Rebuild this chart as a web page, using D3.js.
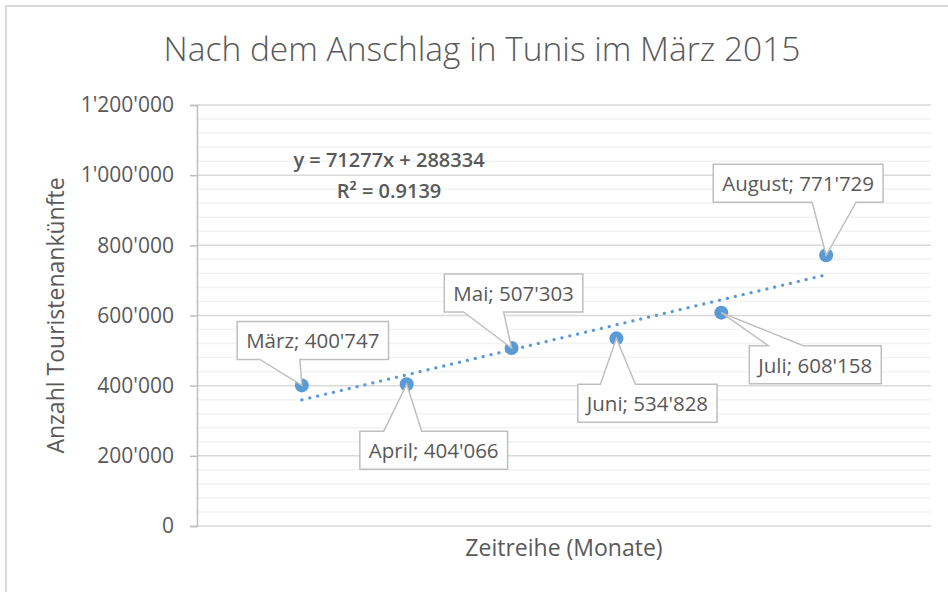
<!DOCTYPE html>
<html>
<head>
<meta charset="utf-8">
<script src="https://cdn.jsdelivr.net/npm/d3@7"></script>
<style>
  body { margin: 0; background: #fff; }
  text { font-family: "Open Sans", sans-serif; fill: #595959; }
</style>
</head>
<body>
<div id="chart"></div>
<script>
// data: months after the attack and tourist arrivals
const months = ["März", "April", "Mai", "Juni", "Juli", "August"];
const arrivals = [400747, 404066, 507303, 534828, 608158, 771729];
const yTicks = [0, 200000, 400000, 600000, 800000, 1000000, 1200000];

const chartTitle = "Nach dem Anschlag in Tunis im März 2015";
const yTitle = "Anzahl Touristenankünfte";
const xTitle = "Zeitreihe (Monate)";

// where each callout sits relative to its point (box centre) and where its wedge leaves the box
const callouts = [
  { dx: 11, dy: -45, base: [-53, -13] },
  { dx: 27, dy: 66, base: [-50, -12] },
  { dx: 2, dy: -55, base: [-50, -10] },
  { dx: 31, dy: 65, base: [-47, -12] },
  { dx: 94, dy: 52, base: [-47, -12] },
  { dx: -28, dy: -72, base: [14, 58] }
];

const W = 948, H = 592;
const margin = { top: 105, right: 17, bottom: 66, left: 197 };
const width = W - margin.left - margin.right;
const height = H - margin.top - margin.bottom;

const loc = d3.formatLocale({ decimal: ".", thousands: "'", grouping: [3], currency: ["", ""] });
const fmt = loc.format(",d");

const svg = d3.select("#chart").append("svg")
  .attr("width", W)
  .attr("height", H);

// chart frame (only top/left edges visible in the crop)
svg.append("rect")
  .attr("x", 6).attr("y", 6)
  .attr("width", W + 20).attr("height", H + 20)
  .attr("fill", "none")
  .attr("stroke", "#d9d9d9")
  .attr("stroke-width", 2);

const g = svg.append("g").attr("transform", `translate(${margin.left},${margin.top})`);

const x = d3.scaleLinear().domain([0, months.length + 1]).range([0, width]);
const y = d3.scaleLinear().domain([0, 1200000]).range([height, 0]);

// minor gridlines
const minor = d3.range(0, 1200001, 40000).filter(v => v % 200000 !== 0);
g.append("g").selectAll("line").data(minor).join("line")
  .attr("x1", 0).attr("x2", width)
  .attr("y1", d => y(d)).attr("y2", d => y(d))
  .attr("stroke", "#f2f2f2").attr("stroke-width", 1.5);

// major gridlines
g.append("g").selectAll("line").data(yTicks).join("line")
  .attr("x1", 0).attr("x2", width)
  .attr("y1", d => y(d)).attr("y2", d => y(d))
  .attr("stroke", "#d9d9d9").attr("stroke-width", 1.5);

// y axis
const yAxis = g.append("g")
  .call(d3.axisLeft(y).tickValues(yTicks).tickSize(7).tickPadding(16).tickFormat(fmt));
yAxis.select(".domain").attr("stroke", "#bfbfbf").attr("stroke-width", 1.5);
yAxis.selectAll(".tick line").attr("stroke", "#bfbfbf").attr("stroke-width", 1.5);
yAxis.selectAll(".tick text")
  .attr("fill", "#595959")
  .style("font-size", "21px")
  .style("font-family", "'Open Sans', sans-serif");

// titles
svg.append("text")
  .attr("x", 482).attr("y", 61)
  .attr("text-anchor", "middle")
  .style("font-size", "33.5px")
  .style("font-weight", 300)
  .text(chartTitle);

svg.append("text")
  .attr("transform", `translate(64,${margin.top + height / 2}) rotate(-90)`)
  .attr("text-anchor", "middle")
  .style("font-size", "23px")
  .text(yTitle);

svg.append("text")
  .attr("x", margin.left + width / 2).attr("y", 556)
  .attr("text-anchor", "middle")
  .style("font-size", "23px")
  .text(xTitle);

// points
const pts = months.map((m, i) => ({ name: m, xi: i + 1, v: arrivals[i] }));

g.append("g").selectAll("circle").data(pts).join("circle")
  .attr("cx", d => x(d.xi))
  .attr("cy", d => y(d.v))
  .attr("r", 7)
  .attr("fill", "#5b9bd5");

// linear trend (least squares)
const xs = pts.map(d => d.xi), ys = pts.map(d => d.v);
const mx = d3.mean(xs), my = d3.mean(ys);
const sxy = d3.sum(pts, d => (d.xi - mx) * (d.v - my));
const sxx = d3.sum(pts, d => (d.xi - mx) ** 2);
const slope = sxy / sxx, icpt = my - slope * mx;
const ssTot = d3.sum(ys, v => (v - my) ** 2);
const ssRes = d3.sum(pts, d => (d.v - (slope * d.xi + icpt)) ** 2);
const r2 = 1 - ssRes / ssTot;

const x0 = d3.min(xs), x1 = d3.max(xs);
g.append("line")
  .attr("x1", x(x0)).attr("y1", y(slope * x0 + icpt))
  .attr("x2", x(x1)).attr("y2", y(slope * x1 + icpt))
  .attr("stroke", "#5b9bd5")
  .attr("stroke-width", 3.2)
  .attr("stroke-linecap", "round")
  .attr("stroke-dasharray", "0.1 8");

svg.append("text")
  .attr("x", 389).attr("y", 167)
  .attr("text-anchor", "middle")
  .attr("fill", "#404040")
  .style("font-size", "20px").style("font-weight", 600)
  .text(`y = ${Math.round(slope)}x + ${Math.round(icpt)}`);
svg.append("text")
  .attr("x", 389).attr("y", 198)
  .attr("text-anchor", "middle")
  .attr("fill", "#404040")
  .style("font-size", "20px").style("font-weight", 600)
  .text(`R² = ${r2.toFixed(4)}`);

// callouts
const boxH = 38, padX = 9;
const cg = g.append("g");
pts.forEach((d, i) => {
  const c = callouts[i];
  const px = x(d.xi), py = y(d.v);
  const cx = px + c.dx, cy = py + c.dy;
  const grp = cg.append("g");
  const path = grp.append("path");
  const t = grp.append("text")
    .attr("x", cx).attr("y", cy)
    .attr("text-anchor", "middle")
    .attr("dominant-baseline", "central")
    .style("font-size", "20.5px")
    .text(`${d.name}; ${fmt(d.v)}`);
  const w = t.node().getComputedTextLength() + 2 * padX;
  const l = cx - w / 2, r = cx + w / 2, tp = cy - boxH / 2, bt = cy + boxH / 2;
  const b0 = cx + c.base[0], b1 = cx + c.base[1];
  let p;
  if (c.dy < 0) {
    // wedge on the bottom edge
    p = `M${l},${tp}H${r}V${bt}H${b1}L${px},${py}L${b0},${bt}H${l}Z`;
  } else {
    // wedge on the top edge
    p = `M${l},${tp}H${b0}L${px},${py}L${b1},${tp}H${r}V${bt}H${l}Z`;
  }
  path.attr("d", p)
    .attr("fill", "#fff")
    .attr("stroke", "#bfbfbf")
    .attr("stroke-width", 1.5);
});
</script>
</body>
</html>
